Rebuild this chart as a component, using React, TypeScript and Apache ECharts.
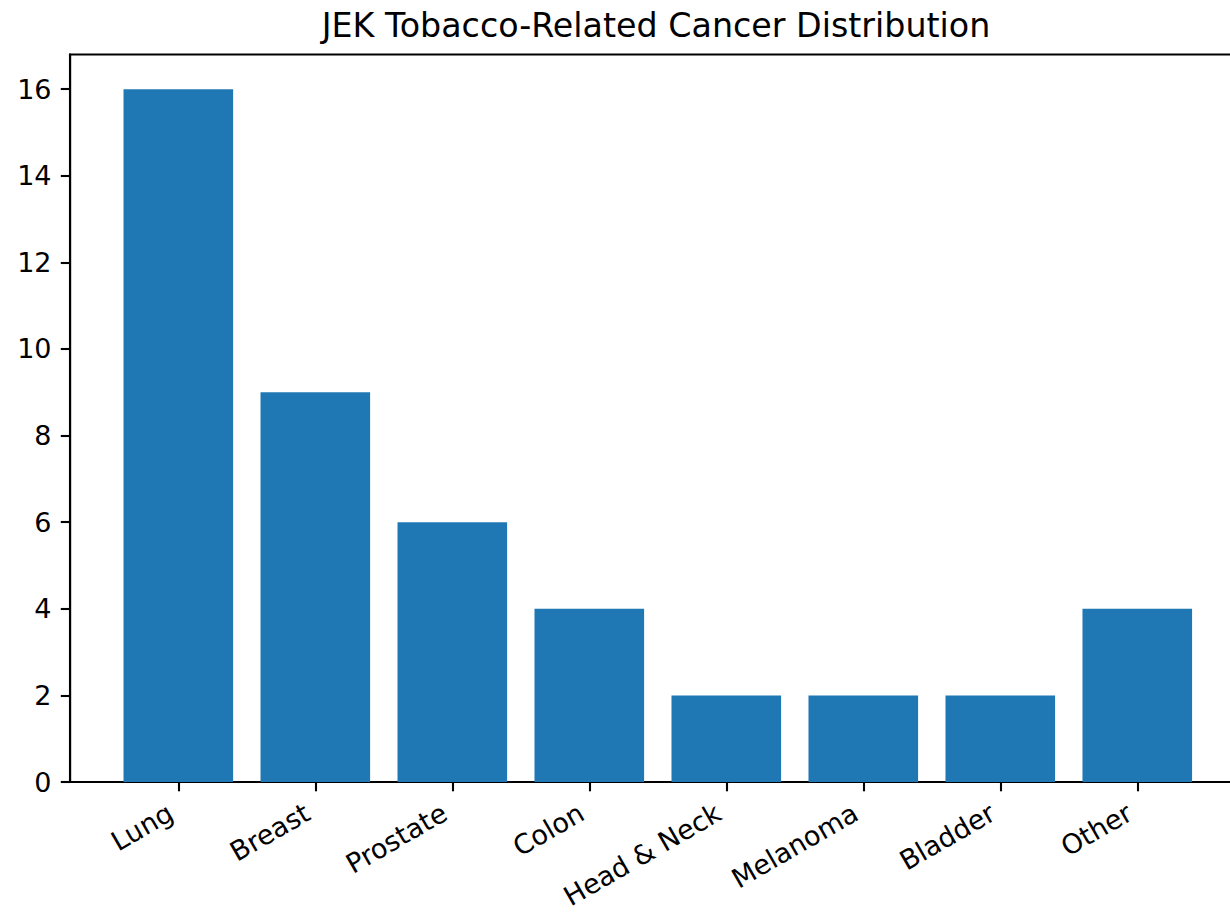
import React, { useEffect, useRef } from "react";
import * as echarts from "echarts";

const categories = ["Lung", "Breast", "Prostate", "Colon", "Head & Neck", "Melanoma", "Bladder", "Other"];
const counts = [16, 9, 6, 4, 2, 2, 2, 4];
const yTicks = [0, 2, 4, 6, 8, 10, 12, 14, 16];
const titleText = "JEK Tobacco-Related Cancer Distribution";

const FONT = "DejaVu Sans";

export default function App() {
  const ref = useRef<HTMLDivElement>(null);
  useEffect(() => {
    if (!ref.current) return;
    const chart = echarts.init(ref.current, undefined, { renderer: "svg" });
    const xPos = categories.map((_, i) => i);
    chart.setOption({
      animation: false,
      backgroundColor: "#ffffff",
      title: {
        text: titleText,
        left: 651,
        textAlign: "center",
        top: 4,
        textStyle: { fontFamily: FONT, fontSize: 33.3, fontWeight: "normal", color: "#000" },
      },
      grid: {
        left: 70.1,
        right: 14.5,
        top: 54.5,
        bottom: 131,
        containLabel: false,
        outerBoundsMode: "none",
        show: true,
        borderColor: "#000",
        borderWidth: 2.1,
        backgroundColor: "transparent",
      },
      xAxis: {
        type: "value",
        min: -0.79,
        max: 7.79,
        splitLine: { show: false },
        axisLine: { show: true, onZero: false, lineStyle: { color: "#000", width: 2.1 } },
        axisTick: { show: true, length: 9.3, lineStyle: { color: "#000", width: 2.1 }, customValues: xPos },
        axisLabel: {
          customValues: xPos,
          rotate: 30,
          margin: 24,
          padding: [0, 9, 0, 0],
          lineHeight: 20,
          fontFamily: FONT,
          fontSize: 27,
          color: "#000",
          formatter: (v: number) => categories[Math.round(v)] ?? "",
        },
      },
      yAxis: {
        type: "value",
        min: 0,
        max: 16.8,
        splitLine: { show: false },
        axisLine: { show: true, onZero: false, lineStyle: { color: "#000", width: 2.1 } },
        axisTick: { show: true, length: 9.3, lineStyle: { color: "#000", width: 2.1 }, customValues: yTicks },
        axisLabel: {
          customValues: yTicks,
          margin: 18.6,
          fontFamily: FONT,
          fontSize: 27,
          color: "#000",
        },
      },
      series: [
        {
          type: "bar",
          data: counts.map((v, i) => [i, v]),
          barWidth: 109.6,
          itemStyle: { color: "#1f77b4" },
        },
      ],
    });
    return () => chart.dispose();
  }, []);
  return (
    <div style={{ position: "absolute", left: 0, top: 0, width: 1230, height: 913, overflow: "hidden", background: "#fff" }}>
      <div ref={ref} style={{ width: 1260, height: 913 }} />
    </div>
  );
}
